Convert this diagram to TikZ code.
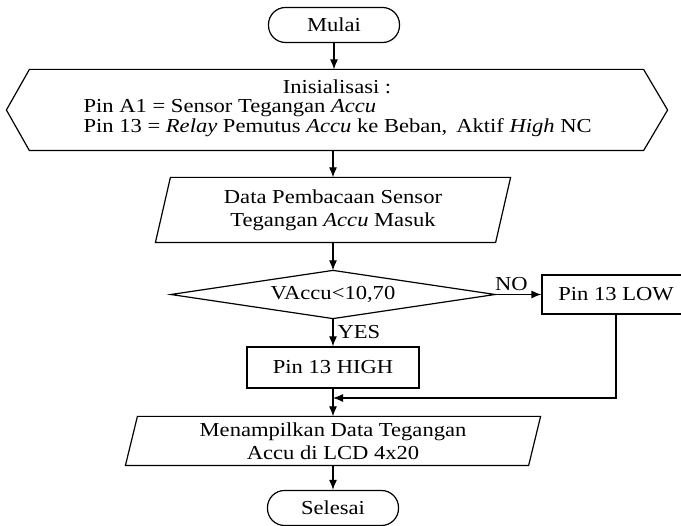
\documentclass[tikz,border=0pt]{standalone}
\usepackage{fontspec}
\setmainfont{Liberation Serif}
\newfontfamily\flowfont[FakeStretch=1.14]{Liberation Serif}
\usetikzlibrary{arrows.meta}

\begin{document}
\begin{tikzpicture}[x=1pt, y=-1pt, line width=1.2pt,
        every node/.style={inner sep=0pt, font=\flowfont\fontsize{19.8}{23}\selectfont},
        terminal/.style={draw, rounded corners=17pt, minimum width=131pt, minimum height=35pt},
        process/.style={draw, minimum width=172pt, minimum height=41pt},
        frame/.style={minimum width=#1},
        flow/.style={-{Latex[length=10pt,width=8pt]}}]
        \clip (0,0) rectangle (681,526);

        % Start and initialisation
        \node[terminal] (mulai) at (334,25) {Mulai};
        \node[frame=660pt, minimum height=80pt] (init) at (337,110) {};
        \draw (init.west) -- ([xshift=23pt]init.north west) -- ([xshift=-24pt]init.north east) -- (init.east)
            -- ([xshift=-24pt]init.south east) -- ([xshift=23pt]init.south west) -- cycle;
        \node (initTitle) at (337,87) {Inisialisasi :};
        \node[anchor=west] (initPinA) at (83,108) {Pin A1 = Sensor Tegangan \textit{Accu}};
        \node[anchor=west] (initPin13) at (83,128) {Pin 13 = \textit{Relay} Pemutus \textit{Accu} ke Beban,\, Aktif \textit{High} NC};

        % Sensor input
        \node[frame=354pt, minimum height=64pt, align=center] (data) at (333,210)
            {Data Pembacaan Sensor\\Tegangan \textit{Accu} Masuk};
        \draw ([xshift=15pt]data.north west) -- (data.north east) -- ([xshift=-15pt]data.south east) -- (data.south west) -- cycle;

        % Decision
        \node[frame=323pt, minimum height=47pt] (cond) at (333,294.5) {VAccu<10,70};
        \draw (cond.north) -- (cond.east) -- (cond.south) -- (cond.west) -- cycle;
        \node[process, minimum width=148pt, minimum height=39pt] (low) at (616,294.5) {Pin 13 LOW};
        \node[process] (high) at (333,367.5) {Pin 13 HIGH};

        % Output and end
        \node[frame=414pt, minimum height=48pt, align=center] (disp) at (333,441)
            {Menampilkan Data Tegangan\\Accu di LCD 4x20};
        \draw ([xshift=12pt]disp.north west) -- (disp.north east) -- ([xshift=-12pt]disp.south east) -- (disp.south west) -- cycle;
        \node[terminal] (selesai) at (333,508) {Selesai};
        \coordinate (merge) at (333,398);

        % Connectors
        \draw[flow] (mulai.south) -- (mulai.south |- init.north);
        \draw[flow] (init.south -| data.north) -- (data.north);
        \draw[flow] (data.south) -- (cond.north);
        \draw[flow] (cond.east) -- node[above=3pt, pos=0.35] (no) {NO} (low.west);
        \draw[flow] (cond.south) -- node[right=4pt, pos=0.5] (yes) {YES} (high.north);
        \draw[flow] (low.south) |- (merge);
        \draw[flow] (high.south) -- (disp.north);
        \draw[flow] (disp.south) -- (selesai.north);
\end{tikzpicture}
\end{document}
